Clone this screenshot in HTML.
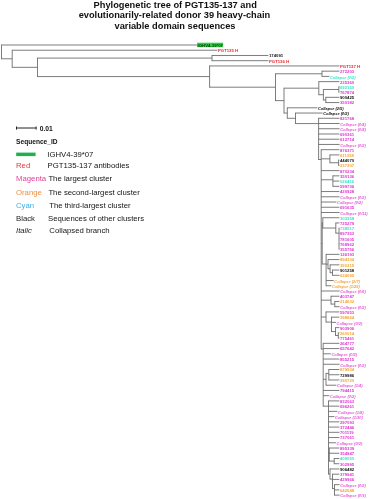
<!DOCTYPE html>
<html><head><meta charset="utf-8"><style>
html,body{margin:0;padding:0;background:#fff;}
body{width:370px;height:499px;overflow:hidden;}
svg{display:block;will-change:transform;}
text{font-family:"Liberation Sans",sans-serif;}
</style></head><body>
<svg width="370" height="499" viewBox="0 0 370 499">
<g font-family="Liberation Sans, sans-serif" font-weight="bold" font-size="9.28" fill="#111" text-anchor="middle">
<text x="175.2" y="7.8">Phylogenetic tree of PGT135-137 and</text>
<text x="174.4" y="18.2">evolutionarily-related donor 39 heavy-chain</text>
<text x="175.0" y="29.25">variable domain sequences</text>
</g>
<g stroke="#666666" stroke-width="0.85" fill="none" stroke-linecap="butt">
<line x1="1.50" y1="45.00" x2="197.00" y2="45.00"/>
<line x1="12.20" y1="50.23" x2="217.40" y2="50.23"/>
<line x1="212.00" y1="55.47" x2="268.40" y2="55.47"/>
<line x1="212.00" y1="60.70" x2="268.40" y2="60.70"/>
<line x1="37.50" y1="58.09" x2="212.00" y2="58.09"/>
<line x1="209.60" y1="65.94" x2="339.40" y2="65.94"/>
<line x1="322.00" y1="71.17" x2="339.40" y2="71.17"/>
<line x1="322.00" y1="76.40" x2="329.40" y2="76.40"/>
<line x1="275.50" y1="73.79" x2="322.00" y2="73.79"/>
<line x1="318.80" y1="81.64" x2="339.40" y2="81.64"/>
<line x1="338.80" y1="86.87" x2="339.40" y2="86.87"/>
<line x1="338.80" y1="92.11" x2="339.40" y2="92.11"/>
<line x1="323.40" y1="89.49" x2="338.80" y2="89.49"/>
<line x1="325.80" y1="97.34" x2="339.40" y2="97.34"/>
<line x1="325.80" y1="102.57" x2="339.40" y2="102.57"/>
<line x1="323.40" y1="99.96" x2="325.80" y2="99.96"/>
<line x1="318.80" y1="94.72" x2="323.40" y2="94.72"/>
<line x1="284.00" y1="88.18" x2="318.80" y2="88.18"/>
<line x1="287.30" y1="107.81" x2="317.40" y2="107.81"/>
<line x1="295.50" y1="113.04" x2="322.60" y2="113.04"/>
<line x1="318.60" y1="118.28" x2="339.40" y2="118.28"/>
<line x1="318.60" y1="123.51" x2="339.60" y2="123.51"/>
<line x1="318.60" y1="128.74" x2="339.60" y2="128.74"/>
<line x1="318.60" y1="133.98" x2="339.40" y2="133.98"/>
<line x1="318.60" y1="139.21" x2="339.40" y2="139.21"/>
<line x1="318.60" y1="144.45" x2="339.60" y2="144.45"/>
<line x1="321.20" y1="149.68" x2="339.40" y2="149.68"/>
<line x1="329.90" y1="154.91" x2="339.40" y2="154.91"/>
<line x1="338.60" y1="160.15" x2="339.40" y2="160.15"/>
<line x1="338.60" y1="165.38" x2="339.40" y2="165.38"/>
<line x1="329.90" y1="162.76" x2="338.60" y2="162.76"/>
<line x1="321.20" y1="158.84" x2="329.90" y2="158.84"/>
<line x1="321.20" y1="170.62" x2="339.40" y2="170.62"/>
<line x1="332.90" y1="175.85" x2="339.40" y2="175.85"/>
<line x1="332.90" y1="181.08" x2="339.40" y2="181.08"/>
<line x1="332.90" y1="186.32" x2="339.40" y2="186.32"/>
<line x1="321.20" y1="179.78" x2="332.90" y2="179.78"/>
<line x1="321.20" y1="191.55" x2="339.40" y2="191.55"/>
<line x1="321.20" y1="196.79" x2="339.60" y2="196.79"/>
<line x1="321.20" y1="202.02" x2="336.40" y2="202.02"/>
<line x1="321.20" y1="207.25" x2="339.40" y2="207.25"/>
<line x1="321.20" y1="212.49" x2="339.60" y2="212.49"/>
<line x1="322.80" y1="217.72" x2="339.40" y2="217.72"/>
<line x1="335.80" y1="222.96" x2="339.40" y2="222.96"/>
<line x1="339.00" y1="228.19" x2="339.40" y2="228.19"/>
<line x1="339.00" y1="233.42" x2="339.40" y2="233.42"/>
<line x1="339.00" y1="238.66" x2="339.40" y2="238.66"/>
<line x1="339.00" y1="243.89" x2="339.40" y2="243.89"/>
<line x1="339.00" y1="249.13" x2="339.40" y2="249.13"/>
<line x1="335.80" y1="233.10" x2="339.00" y2="233.10"/>
<line x1="322.80" y1="228.03" x2="335.80" y2="228.03"/>
<line x1="322.20" y1="222.87" x2="322.80" y2="222.87"/>
<line x1="326.10" y1="254.36" x2="339.40" y2="254.36"/>
<line x1="328.00" y1="259.59" x2="339.40" y2="259.59"/>
<line x1="330.10" y1="264.83" x2="339.40" y2="264.83"/>
<line x1="332.50" y1="270.06" x2="339.40" y2="270.06"/>
<line x1="332.50" y1="275.30" x2="339.40" y2="275.30"/>
<line x1="330.10" y1="272.68" x2="332.50" y2="272.68"/>
<line x1="328.00" y1="268.75" x2="330.10" y2="268.75"/>
<line x1="326.10" y1="264.17" x2="328.00" y2="264.17"/>
<line x1="326.10" y1="280.53" x2="333.70" y2="280.53"/>
<line x1="326.10" y1="285.76" x2="331.40" y2="285.76"/>
<line x1="322.20" y1="264.01" x2="326.10" y2="264.01"/>
<line x1="321.20" y1="243.44" x2="322.20" y2="243.44"/>
<line x1="321.20" y1="291.00" x2="339.60" y2="291.00"/>
<line x1="331.00" y1="296.23" x2="339.40" y2="296.23"/>
<line x1="334.80" y1="301.47" x2="339.40" y2="301.47"/>
<line x1="334.80" y1="306.70" x2="339.60" y2="306.70"/>
<line x1="331.00" y1="304.08" x2="334.80" y2="304.08"/>
<line x1="321.20" y1="300.16" x2="331.00" y2="300.16"/>
<line x1="326.00" y1="311.93" x2="339.40" y2="311.93"/>
<line x1="331.50" y1="317.17" x2="339.40" y2="317.17"/>
<line x1="331.50" y1="322.40" x2="336.00" y2="322.40"/>
<line x1="335.50" y1="327.64" x2="339.40" y2="327.64"/>
<line x1="338.30" y1="332.87" x2="339.40" y2="332.87"/>
<line x1="338.30" y1="338.10" x2="339.40" y2="338.10"/>
<line x1="335.50" y1="335.49" x2="338.30" y2="335.49"/>
<line x1="331.50" y1="331.56" x2="335.50" y2="331.56"/>
<line x1="326.00" y1="322.07" x2="331.50" y2="322.07"/>
<line x1="321.20" y1="317.00" x2="326.00" y2="317.00"/>
<line x1="323.20" y1="343.34" x2="339.40" y2="343.34"/>
<line x1="323.20" y1="348.57" x2="339.40" y2="348.57"/>
<line x1="323.20" y1="353.81" x2="330.80" y2="353.81"/>
<line x1="323.20" y1="359.04" x2="339.40" y2="359.04"/>
<line x1="323.20" y1="364.27" x2="339.60" y2="364.27"/>
<line x1="328.80" y1="369.51" x2="339.40" y2="369.51"/>
<line x1="328.80" y1="374.74" x2="339.40" y2="374.74"/>
<line x1="328.80" y1="379.98" x2="339.40" y2="379.98"/>
<line x1="326.00" y1="373.43" x2="328.80" y2="373.43"/>
<line x1="326.00" y1="385.21" x2="336.40" y2="385.21"/>
<line x1="323.20" y1="379.32" x2="326.00" y2="379.32"/>
<line x1="323.20" y1="390.44" x2="339.40" y2="390.44"/>
<line x1="323.20" y1="395.68" x2="329.30" y2="395.68"/>
<line x1="328.50" y1="400.91" x2="339.40" y2="400.91"/>
<line x1="328.50" y1="406.15" x2="339.40" y2="406.15"/>
<line x1="328.50" y1="411.38" x2="337.40" y2="411.38"/>
<line x1="328.50" y1="416.61" x2="334.40" y2="416.61"/>
<line x1="328.50" y1="421.85" x2="339.40" y2="421.85"/>
<line x1="328.50" y1="427.08" x2="339.40" y2="427.08"/>
<line x1="328.50" y1="432.32" x2="339.40" y2="432.32"/>
<line x1="328.50" y1="437.55" x2="339.40" y2="437.55"/>
<line x1="328.50" y1="442.78" x2="336.00" y2="442.78"/>
<line x1="329.30" y1="448.02" x2="339.40" y2="448.02"/>
<line x1="329.30" y1="453.25" x2="339.40" y2="453.25"/>
<line x1="334.20" y1="458.49" x2="339.40" y2="458.49"/>
<line x1="334.20" y1="463.72" x2="339.40" y2="463.72"/>
<line x1="329.30" y1="461.10" x2="334.20" y2="461.10"/>
<line x1="328.50" y1="452.60" x2="329.30" y2="452.60"/>
<line x1="330.00" y1="468.95" x2="339.40" y2="468.95"/>
<line x1="332.50" y1="474.19" x2="339.40" y2="474.19"/>
<line x1="332.50" y1="479.42" x2="339.40" y2="479.42"/>
<line x1="334.50" y1="484.66" x2="339.60" y2="484.66"/>
<line x1="334.50" y1="489.89" x2="339.40" y2="489.89"/>
<line x1="334.50" y1="495.12" x2="339.60" y2="495.12"/>
<line x1="332.50" y1="488.58" x2="334.50" y2="488.58"/>
<line x1="330.00" y1="479.09" x2="332.50" y2="479.09"/>
<line x1="328.50" y1="474.02" x2="330.00" y2="474.02"/>
<line x1="323.20" y1="406.17" x2="328.50" y2="406.17"/>
<line x1="321.20" y1="348.97" x2="323.20" y2="348.97"/>
<line x1="318.60" y1="159.51" x2="321.20" y2="159.51"/>
<line x1="295.50" y1="123.58" x2="318.60" y2="123.58"/>
<line x1="287.30" y1="118.31" x2="295.50" y2="118.31"/>
<line x1="284.00" y1="113.06" x2="287.30" y2="113.06"/>
<line x1="275.50" y1="100.62" x2="284.00" y2="100.62"/>
<line x1="209.60" y1="87.20" x2="275.50" y2="87.20"/>
<line x1="37.50" y1="76.57" x2="209.60" y2="76.57"/>
<line x1="12.20" y1="67.33" x2="37.50" y2="67.33"/>
<line x1="1.50" y1="58.78" x2="12.20" y2="58.78"/>
<line x1="212.00" y1="55.04" x2="212.00" y2="61.13"/>
<line x1="322.00" y1="70.75" x2="322.00" y2="76.83"/>
<line x1="338.80" y1="86.45" x2="338.80" y2="92.53"/>
<line x1="325.80" y1="96.92" x2="325.80" y2="103.00"/>
<line x1="323.40" y1="89.06" x2="323.40" y2="100.38"/>
<line x1="318.80" y1="81.21" x2="318.80" y2="95.15"/>
<line x1="338.60" y1="159.72" x2="338.60" y2="165.81"/>
<line x1="329.90" y1="154.49" x2="329.90" y2="163.19"/>
<line x1="332.90" y1="175.42" x2="332.90" y2="186.74"/>
<line x1="339.00" y1="227.76" x2="339.00" y2="249.55"/>
<line x1="335.80" y1="222.53" x2="335.80" y2="233.52"/>
<line x1="322.80" y1="217.30" x2="322.80" y2="228.45"/>
<line x1="332.50" y1="269.64" x2="332.50" y2="275.72"/>
<line x1="332.50" y1="473.76" x2="332.50" y2="489.01"/>
<line x1="330.10" y1="264.40" x2="330.10" y2="273.10"/>
<line x1="328.00" y1="259.17" x2="328.00" y2="269.18"/>
<line x1="326.10" y1="253.94" x2="326.10" y2="286.19"/>
<line x1="322.20" y1="222.45" x2="322.20" y2="264.44"/>
<line x1="334.80" y1="301.04" x2="334.80" y2="307.12"/>
<line x1="331.00" y1="295.81" x2="331.00" y2="304.51"/>
<line x1="338.30" y1="332.44" x2="338.30" y2="338.53"/>
<line x1="335.50" y1="327.21" x2="335.50" y2="335.91"/>
<line x1="331.50" y1="316.74" x2="331.50" y2="331.99"/>
<line x1="326.00" y1="311.51" x2="326.00" y2="322.50"/>
<line x1="326.00" y1="373.01" x2="326.00" y2="385.63"/>
<line x1="328.80" y1="369.08" x2="328.80" y2="380.40"/>
<line x1="334.20" y1="458.06" x2="334.20" y2="464.15"/>
<line x1="329.30" y1="447.59" x2="329.30" y2="461.53"/>
<line x1="334.50" y1="484.23" x2="334.50" y2="495.55"/>
<line x1="330.00" y1="468.53" x2="330.00" y2="479.52"/>
<line x1="328.50" y1="400.49" x2="328.50" y2="474.45"/>
<line x1="323.20" y1="342.91" x2="323.20" y2="406.59"/>
<line x1="321.20" y1="149.25" x2="321.20" y2="349.40"/>
<line x1="318.60" y1="117.85" x2="318.60" y2="159.94"/>
<line x1="295.50" y1="112.62" x2="295.50" y2="124.01"/>
<line x1="287.30" y1="107.38" x2="287.30" y2="118.74"/>
<line x1="284.00" y1="87.76" x2="284.00" y2="113.48"/>
<line x1="275.50" y1="73.36" x2="275.50" y2="101.05"/>
<line x1="209.60" y1="65.51" x2="209.60" y2="87.63"/>
<line x1="37.50" y1="57.66" x2="37.50" y2="76.99"/>
<line x1="12.20" y1="49.81" x2="12.20" y2="67.75"/>
<line x1="1.50" y1="44.58" x2="1.50" y2="59.21"/>
</g>
<g font-size="4.25">
<rect x="197.1" y="42.70" width="26" height="4.5" fill="#2fd23f"/>
<text x="197.60" y="46.88" fill="#0a3a10" font-weight="bold">IGHV4-39*07</text>
<text x="218.00" y="52.11" fill="#e8282a" font-weight="bold">PGT135 H</text>
<text x="269.00" y="57.35" fill="#111111" font-weight="bold">174091</text>
<text x="269.00" y="62.58" fill="#e8282a" font-weight="bold">PGT136 H</text>
<text x="340.00" y="67.82" fill="#e8282a" font-weight="bold">PGT137 H</text>
<text x="340.00" y="73.05" fill="#e234d6" font-weight="bold">272203</text>
<text x="330.00" y="78.63" fill="#3ee3cb" font-style="italic" font-weight="bold" font-size="3.95">Collapse (0/2)</text>
<text x="340.00" y="83.52" fill="#e234d6" font-weight="bold">235360</text>
<text x="340.00" y="88.75" fill="#3ee3cb" font-weight="bold">692150</text>
<text x="340.00" y="93.99" fill="#e234d6" font-weight="bold">767874</text>
<text x="340.00" y="99.22" fill="#111111" font-weight="bold">900425</text>
<text x="340.00" y="104.45" fill="#e234d6" font-weight="bold">350182</text>
<text x="318.00" y="110.04" fill="#111111" font-style="italic" font-weight="bold" font-size="3.95">Collapse (2/5)</text>
<text x="323.20" y="115.27" fill="#111111" font-style="italic" font-weight="bold" font-size="3.95">Collapse (0/2)</text>
<text x="340.00" y="120.16" fill="#e234d6" font-weight="bold">821768</text>
<text x="340.20" y="125.74" fill="#e45cd8" font-style="italic" font-weight="bold" font-size="3.95">Collapse (0/4)</text>
<text x="340.20" y="130.97" fill="#e45cd8" font-style="italic" font-weight="bold" font-size="3.95">Collapse (0/4)</text>
<text x="340.00" y="135.86" fill="#e234d6" font-weight="bold">690361</text>
<text x="340.00" y="141.09" fill="#e234d6" font-weight="bold">612714</text>
<text x="340.20" y="146.68" fill="#e45cd8" font-style="italic" font-weight="bold" font-size="3.95">Collapse (0/2)</text>
<text x="340.00" y="151.56" fill="#e234d6" font-weight="bold">876371</text>
<text x="340.00" y="156.79" fill="#f3a63c" font-weight="bold">611358</text>
<text x="340.00" y="162.03" fill="#111111" font-weight="bold">444070</text>
<text x="340.00" y="167.26" fill="#f3a63c" font-weight="bold">237307</text>
<text x="340.00" y="172.50" fill="#e234d6" font-weight="bold">870234</text>
<text x="340.00" y="177.73" fill="#e234d6" font-weight="bold">350136</text>
<text x="340.00" y="182.96" fill="#3ee3cb" font-weight="bold">026416</text>
<text x="340.00" y="188.20" fill="#e234d6" font-weight="bold">599736</text>
<text x="340.00" y="193.43" fill="#e234d6" font-weight="bold">420928</text>
<text x="340.20" y="199.02" fill="#e45cd8" font-style="italic" font-weight="bold" font-size="3.95">Collapse (0/2)</text>
<text x="337.00" y="204.25" fill="#e45cd8" font-style="italic" font-weight="bold" font-size="3.95">Collapse (0/2)</text>
<text x="340.00" y="209.13" fill="#e234d6" font-weight="bold">691635</text>
<text x="340.20" y="214.72" fill="#e45cd8" font-style="italic" font-weight="bold" font-size="3.95">Collapse (0/11)</text>
<text x="340.00" y="219.60" fill="#3ee3cb" font-weight="bold">303358</text>
<text x="340.00" y="224.84" fill="#e234d6" font-weight="bold">725279</text>
<text x="340.00" y="230.07" fill="#3ee3cb" font-weight="bold">738517</text>
<text x="340.00" y="235.30" fill="#e234d6" font-weight="bold">897353</text>
<text x="340.00" y="240.54" fill="#e234d6" font-weight="bold">781605</text>
<text x="340.00" y="245.77" fill="#e234d6" font-weight="bold">768962</text>
<text x="340.00" y="251.01" fill="#e234d6" font-weight="bold">355756</text>
<text x="340.00" y="256.24" fill="#e234d6" font-weight="bold">126193</text>
<text x="340.00" y="261.47" fill="#f3a63c" font-weight="bold">894334</text>
<text x="340.00" y="266.71" fill="#f3a63c" font-weight="bold">390315</text>
<text x="340.00" y="271.94" fill="#111111" font-weight="bold">901258</text>
<text x="340.00" y="277.18" fill="#f3a63c" font-weight="bold">624095</text>
<text x="334.30" y="282.76" fill="#f3a63c" font-style="italic" font-weight="bold" font-size="3.95">Collapse (2/7)</text>
<text x="332.00" y="287.99" fill="#f3a63c" font-style="italic" font-weight="bold" font-size="3.95">Collapse (1/28)</text>
<text x="340.20" y="293.23" fill="#e45cd8" font-style="italic" font-weight="bold" font-size="3.95">Collapse (0/6)</text>
<text x="340.00" y="298.11" fill="#e234d6" font-weight="bold">403747</text>
<text x="340.00" y="303.35" fill="#f3a63c" font-weight="bold">214632</text>
<text x="340.20" y="308.93" fill="#e45cd8" font-style="italic" font-weight="bold" font-size="3.95">Collapse (0/2)</text>
<text x="340.00" y="313.81" fill="#e234d6" font-weight="bold">597653</text>
<text x="340.00" y="319.05" fill="#f3a63c" font-weight="bold">398664</text>
<text x="336.60" y="324.63" fill="#e45cd8" font-style="italic" font-weight="bold" font-size="3.95">Collapse (0/2)</text>
<text x="340.00" y="329.52" fill="#e234d6" font-weight="bold">903906</text>
<text x="340.00" y="334.75" fill="#f3a63c" font-weight="bold">260014</text>
<text x="340.00" y="339.98" fill="#e234d6" font-weight="bold">775461</text>
<text x="340.00" y="345.22" fill="#e234d6" font-weight="bold">264777</text>
<text x="340.00" y="350.45" fill="#e234d6" font-weight="bold">657642</text>
<text x="331.40" y="356.04" fill="#e45cd8" font-style="italic" font-weight="bold" font-size="3.95">Collapse (0/2)</text>
<text x="340.00" y="360.92" fill="#e234d6" font-weight="bold">855215</text>
<text x="340.20" y="366.50" fill="#e45cd8" font-style="italic" font-weight="bold" font-size="3.95">Collapse (0/2)</text>
<text x="340.00" y="371.39" fill="#f3a63c" font-weight="bold">879934</text>
<text x="340.00" y="376.62" fill="#111111" font-weight="bold">729986</text>
<text x="340.00" y="381.86" fill="#f3a63c" font-weight="bold">390720</text>
<text x="337.00" y="387.44" fill="#e45cd8" font-style="italic" font-weight="bold" font-size="3.95">Collapse (1/4)</text>
<text x="340.00" y="392.32" fill="#e234d6" font-weight="bold">794415</text>
<text x="329.90" y="397.91" fill="#e45cd8" font-style="italic" font-weight="bold" font-size="3.95">Collapse (0/2)</text>
<text x="340.00" y="402.79" fill="#e234d6" font-weight="bold">832063</text>
<text x="340.00" y="408.03" fill="#e234d6" font-weight="bold">696261</text>
<text x="338.00" y="413.61" fill="#e45cd8" font-style="italic" font-weight="bold" font-size="3.95">Collapse (1/8)</text>
<text x="335.00" y="418.84" fill="#e45cd8" font-style="italic" font-weight="bold" font-size="3.95">Collapse (1/30)</text>
<text x="340.00" y="423.73" fill="#e234d6" font-weight="bold">297093</text>
<text x="340.00" y="428.96" fill="#e234d6" font-weight="bold">372446</text>
<text x="340.00" y="434.20" fill="#e234d6" font-weight="bold">701119</text>
<text x="340.00" y="439.43" fill="#e234d6" font-weight="bold">737061</text>
<text x="336.60" y="445.01" fill="#e45cd8" font-style="italic" font-weight="bold" font-size="3.95">Collapse (0/2)</text>
<text x="340.00" y="449.90" fill="#e234d6" font-weight="bold">895339</text>
<text x="340.00" y="455.13" fill="#e234d6" font-weight="bold">354947</text>
<text x="340.00" y="460.37" fill="#3ee3cb" font-weight="bold">409050</text>
<text x="340.00" y="465.60" fill="#e234d6" font-weight="bold">302995</text>
<text x="340.00" y="470.83" fill="#111111" font-weight="bold">906482</text>
<text x="340.00" y="476.07" fill="#e234d6" font-weight="bold">379941</text>
<text x="340.00" y="481.30" fill="#e234d6" font-weight="bold">429966</text>
<text x="340.20" y="486.89" fill="#e45cd8" font-style="italic" font-weight="bold" font-size="3.95">Collapse (0/2)</text>
<text x="340.00" y="491.77" fill="#f3a63c" font-weight="bold">642548</text>
<text x="340.20" y="497.35" fill="#e45cd8" font-style="italic" font-weight="bold" font-size="3.95">Collapse (0/3)</text>
</g>
<g>
<line x1="16.3" y1="128.0" x2="36.3" y2="128.0" stroke="#222" stroke-width="1"/>
<line x1="16.5" y1="126.5" x2="16.5" y2="129.6" stroke="#222" stroke-width="1"/>
<line x1="36.1" y1="126.5" x2="36.1" y2="129.6" stroke="#222" stroke-width="1"/>
<text x="39.7" y="130.8" font-size="6.7" font-weight="bold" fill="#111">0.01</text>
<text x="16.1" y="143.9" font-size="6.6" font-weight="bold" fill="#111">Sequence_ID</text>
<rect x="16.2" y="152.6" width="19.4" height="3.5" fill="#22b04e"/>
</g>
<g font-size="7.75" fill="#141414">
<text x="47.3" y="156.9">IGHV4-39*07</text>
<text x="16" y="167.9" fill="#e2383c">Red</text>
<text x="47.6" y="167.9">PGT135-137 antibodies</text>
<text x="16" y="181.2" fill="#e63e98">Magenta</text>
<text x="48.4" y="181.2">The largest cluster</text>
<text x="16" y="194.7" fill="#e8914a">Orange</text>
<text x="48.4" y="194.7">The second-largest cluster</text>
<text x="16" y="208.2" fill="#3cb0e6">Cyan</text>
<text x="49.2" y="208.2">The third-largest cluster</text>
<text x="16" y="220.8" fill="#1a1a1a">Black</text>
<text x="48.0" y="220.8">Sequences of other clusters</text>
<text x="16" y="233.1" font-style="italic" fill="#1a1a1a">Italic</text>
<text x="49.3" y="233.1">Collapsed branch</text>
</g>
</svg>
</body></html>
